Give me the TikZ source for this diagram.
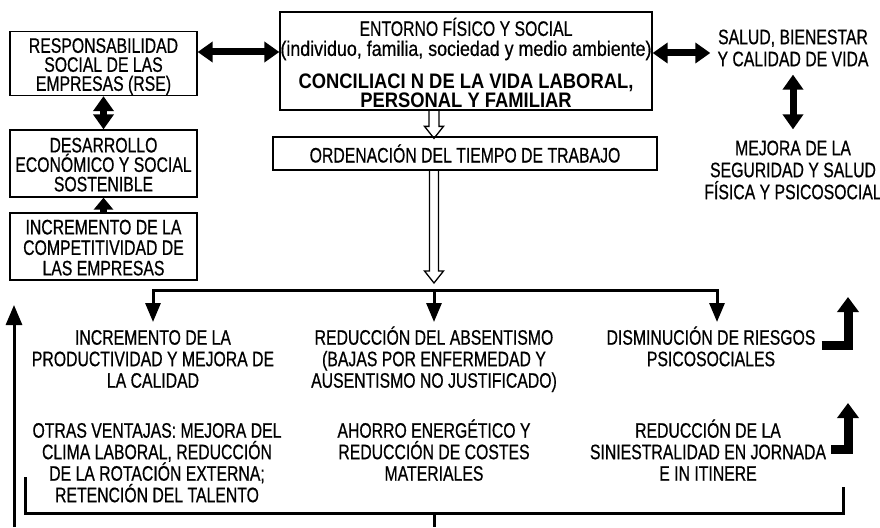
\documentclass[tikz,border=0pt]{standalone}
\usepackage{fontspec}
\setmainfont{Liberation Sans}[FakeStretch=0.752, FakeBold=0.6, BoldFeatures={FakeStretch=0.875, FakeBold=0}]
\newfontfamily\lcfont{Liberation Sans}[FakeStretch=0.85, FakeBold=0.6]
\usetikzlibrary{arrows.meta,calc}
\newcommand{\fl}{\rule{0pt}{19.5pt}}
\begin{document}
\begin{tikzpicture}[x=1pt,y=-1pt,
  box/.style={draw, line width=1.3pt, inner sep=0pt, align=center},
  txt/.style={inner xsep=0pt, inner ysep=3pt, align=center},
  dbl/.style={line width=7pt, {Triangle[width=20pt,length=15pt]}-{Triangle[width=20pt,length=15pt]}},
  sgl/.style={line width=7pt, -{Triangle[width=19pt,length=12pt]}},
  branch/.style={line width=3pt, line join=miter},
  brarrow/.style={line width=3pt, line join=miter, -{Triangle[width=15pt,length=19pt]}},
  Lshape/.style={line width=9pt, line join=miter, -{Triangle[width=21pt,length=15pt]}},
  hollow/.style={line width=1.3pt, line join=miter}]
\useasboundingbox (0,0) rectangle (880,527);

% left column boxes
\node[box, minimum width=187pt, minimum height=64pt, font=\fontsize{21}{19}\selectfont] (rse) at (103.5,63.5)
  {\rule{0pt}{21pt}RESPONSABILIDAD\\SOCIAL DE LAS\\EMPRESAS (RSE)};
\node[box, minimum width=187pt, minimum height=67pt, font=\fontsize{21}{19.5}\selectfont] (des) at (103.5,163.5)
  {\rule{0pt}{17pt}DESARROLLO\\ECONÓMICO Y SOCIAL\\SOSTENIBLE};
\node[box, minimum width=187pt, minimum height=67pt, font=\fontsize{21}{20.5}\selectfont] (inc) at (103.5,246.5)
  {\rule{0pt}{17pt}INCREMENTO DE LA\\COMPETITIVIDAD DE\\LAS EMPRESAS};

% central boxes
\node[box, minimum width=372pt, minimum height=98pt, font=\fontsize{21}{20}\selectfont] (central) at (466,61)
  {\rule{0pt}{22pt}ENTORNO FÍSICO Y SOCIAL\\{\lcfont (individuo, familia, sociedad y medio ambiente)}\\[13pt]
   \textbf{CONCILIACI N DE LA VIDA LABORAL,}\\[-1pt]\textbf{PERSONAL Y FAMILIAR}};
\node[box, minimum width=384pt, minimum height=33pt, font=\fontsize{21}{20}\selectfont] (ord) at (465,153.5)
  {ORDENACIÓN DEL TIEMPO DE TRABAJO};

% right texts
\node[txt, font=\fontsize{21}{22}\selectfont] (salud) at (793,48) {SALUD, BIENESTAR\\Y CALIDAD DE VIDA};
\node[txt, font=\fontsize{21}{22}\selectfont] (mejora) at (793,170) {MEJORA DE LA\\SEGURIDAD Y SALUD\\FÍSICA Y PSICOSOCIAL};

% bottom texts
\begin{scope}[every node/.style={txt, anchor=north, font=\fontsize{21}{21.5}\selectfont}]
\node (prod) at (153,322) {\fl INCREMENTO DE LA\\PRODUCTIVIDAD Y MEJORA DE\\LA CALIDAD};
\node (absent) at (434,322) {\fl REDUCCIÓN DEL ABSENTISMO\\(BAJAS POR ENFERMEDAD Y\\AUSENTISMO NO JUSTIFICADO)};
\node (dismin) at (711,322) {\fl DISMINUCIÓN DE RIESGOS\\PSICOSOCIALES};
\node (otras) at (157,415) {\fl OTRAS VENTAJAS: MEJORA DEL\\CLIMA LABORAL, REDUCCIÓN\\DE LA ROTACIÓN EXTERNA;\\RETENCIÓN DEL TALENTO};
\node (ahorro) at (434,415) {\fl AHORRO ENERGÉTICO Y\\REDUCCIÓN DE COSTES\\MATERIALES};
\node (sinies) at (708,415) {\fl REDUCCIÓN DE LA\\SINIESTRALIDAD EN JORNADA\\E IN ITINERE};
\end{scope}

% thick double arrows
\coordinate (yA) at (0,52);
\coordinate (yB) at (0,53);
\draw[dbl] (rse.east |- yA) -- (central.west |- yA);
\draw[dbl, shorten >=7pt] (central.east |- yB) -- (salud.west |- yB);
\draw[dbl, shorten <=5pt, shorten >=8pt] (salud.south) -- (mejora.north);
\draw[dbl] (rse.south) -- (des.north);
\draw[sgl] (inc.north) -- (des.south);

% hollow arrows
\coordinate (hx) at (434,0);
\coordinate (h1s) at (central.south -| hx);
\coordinate (h1t) at ($(ord.north -| hx)+(0,2)$);
\coordinate (h2s) at (ord.south -| hx);
\coordinate (h2t) at (434,283);
\draw[hollow] ($(h1s)+(-5,0)$) -- ($(h1t)+(-5,-12)$) -- ($(h1t)+(-9.5,-12)$) -- (h1t)
  -- ($(h1t)+(9.5,-12)$) -- ($(h1t)+(5,-12)$) -- ($(h1s)+(5,0)$);
\draw[hollow] ($(h2s)+(-4.5,0)$) -- ($(h2t)+(-4.5,-12)$) -- ($(h2t)+(-9.5,-12)$) -- (h2t)
  -- ($(h2t)+(9.5,-12)$) -- ($(h2t)+(4.5,-12)$) -- ($(h2s)+(4.5,0)$);

% branch
\coordinate (barY) at (0,290);
\draw[brarrow] (absent.north |- barY) -| (prod.north);
\draw[brarrow] (absent.north |- barY) -| ([xshift=6pt]dismin.north);
\draw[brarrow] (absent.north |- barY) -- (absent.north);

% L-shaped arrows
\coordinate (Ltip1) at (848,297);
\coordinate (Ltip2) at (848,403);
\draw[Lshape] ($(dismin.east)+(6,0)$) -| (Ltip1);
\draw[Lshape] ($(sinies.east)+(5,0)$) -| (Ltip2);

% bottom bracket
\coordinate (brL) at (25,477);
\coordinate (brLb) at (25,513);
\coordinate (brRb) at (843,513);
\coordinate (brR) at (843,487);
\draw[branch] (brL) -- (brLb) -- (brRb) -- (brR);
\coordinate (midT) at (434,513);
\coordinate (midB) at (434,527);
\draw[branch] (midT) -- (midB);
\coordinate (upB) at (14,527);
\coordinate (upT) at (14,305);
\draw[line width=3pt, -{Triangle[width=16pt,length=20pt]}] (upB) -- (upT);
\end{tikzpicture}
\end{document}
